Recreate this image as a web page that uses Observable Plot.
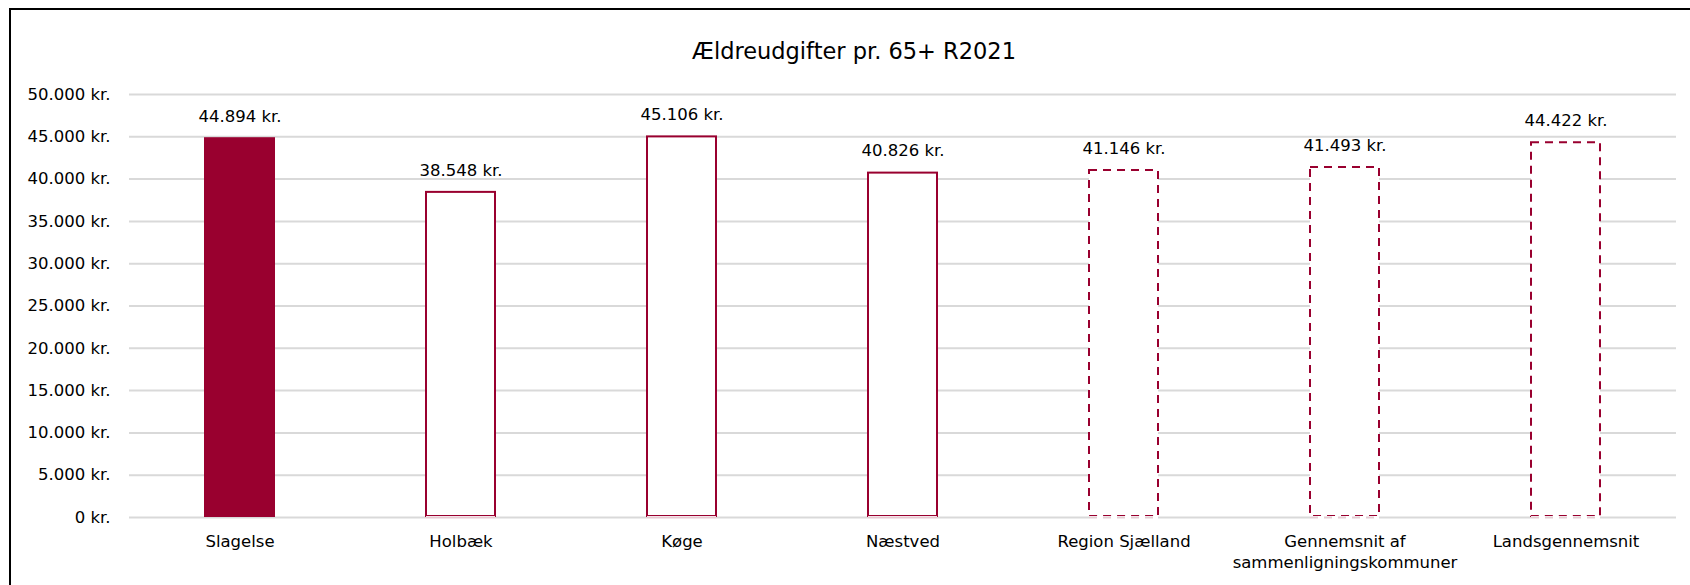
<!DOCTYPE html>
<html lang="da">
<head>
<meta charset="utf-8">
<script src="https://cdn.jsdelivr.net/npm/d3@7"></script>
<script src="https://cdn.jsdelivr.net/npm/@observablehq/plot@0.6"></script>
<style>
  html, body { margin: 0; padding: 0; background: #fff; overflow: hidden; }
  #wrap { position: relative; width: 1690px; height: 585px; }
  #frame {
    position: absolute; left: 9px; top: 8px; width: 1720px; height: 620px;
    border: 2px solid #000; box-sizing: border-box; pointer-events: none;
  }
  #title {
    height: 75px; box-sizing: border-box; padding-top: 40px; padding-left: 18px;
    text-align: center; font-family: "DejaVu Sans", sans-serif; font-size: 22.5px;
    line-height: 22px; color: #000;
  }
  #chart svg { display: block; }
</style>
</head>
<body>
<div id="wrap">
  <div id="title">Ældreudgifter pr. 65+ R2021</div>
  <div id="chart"></div>
  <div id="frame"></div>
</div>
<script>
// Spending on elderly care per resident aged 65+, budget 2021 (kr.)
const categories = [
  "Slagelse",
  "Holbæk",
  "Køge",
  "Næstved",
  "Region Sjælland",
  "Gennemsnit af\nsammenligningskommuner",
  "Landsgennemsnit"
];
const values = [44894, 38548, 45106, 40826, 41146, 41493, 44422];

// The highlighted municipality, the comparison municipalities and the averages
const focus = "Slagelse";
const comparison = ["Holbæk", "Køge", "Næstved"];
const averages = ["Region Sjælland", "Gennemsnit af\nsammenligningskommuner", "Landsgennemsnit"];

const yTicks = [0, 5000, 10000, 15000, 20000, 25000, 30000, 35000, 40000, 45000, 50000];

const rows = categories.map((name, i) => ({name, value: values[i]}));
const kr = (d) => d3.format(",")(d).replace(/,/g, ".") + " kr.";

const red = "#99002f";
const grid = "#d9d9d9";

const chart = Plot.plot({
  width: 1690,
  height: 510,
  marginTop: 19,
  marginBottom: 68,
  marginLeft: 129,
  marginRight: 14,
  style: {fontFamily: "DejaVu Sans, sans-serif", fontSize: "16.5px", color: "#000", background: "transparent"},
  x: {domain: categories, paddingInner: 0.68, paddingOuter: 0.34, label: null},
  y: {domain: [0, 50000], label: null},
  marks: [
    Plot.ruleY(yTicks, {stroke: grid, strokeWidth: 2}),
    Plot.axisY({ticks: yTicks, tickFormat: kr, tickSize: 0, tickPadding: 19, label: null}),
    Plot.axisX({tickSize: 0, tickPadding: 15, lineHeight: 1.25, label: null}),
    Plot.barY(rows.filter((d) => d.name === focus), {x: "name", y: "value", fill: red}),
    Plot.barY(rows.filter((d) => comparison.includes(d.name)), {
      x: "name", y: "value", fill: "white", stroke: red, strokeWidth: 2, inset: 1
    }),
    Plot.barY(rows.filter((d) => averages.includes(d.name)), {
      x: "name", y: "value", fill: "white", stroke: red, strokeWidth: 2, inset: 1,
      strokeDasharray: "8,6"
    }),
    // soften the bottom edge of the outlined bars where it meets the baseline
    Plot.tickY(rows.filter((d) => d.name !== focus), {
      x: "name", y: 0, stroke: "white", strokeWidth: 3, inset: 1
    }),
    Plot.tickY(rows.filter((d) => comparison.includes(d.name)), {
      x: "name", y: 0, stroke: "#e8c8d1", strokeWidth: 2, inset: 1
    }),
    Plot.tickY(rows.filter((d) => averages.includes(d.name)), {
      x: "name", y: 0, stroke: "#e3cdd3", strokeWidth: 2, inset: 1, strokeDasharray: "8,6"
    }),
    Plot.text(rows, {x: "name", y: "value", text: (d) => kr(d.value), dy: -21, fill: "#000"})
  ]
});

document.getElementById("chart").append(chart);
</script>
</body>
</html>
